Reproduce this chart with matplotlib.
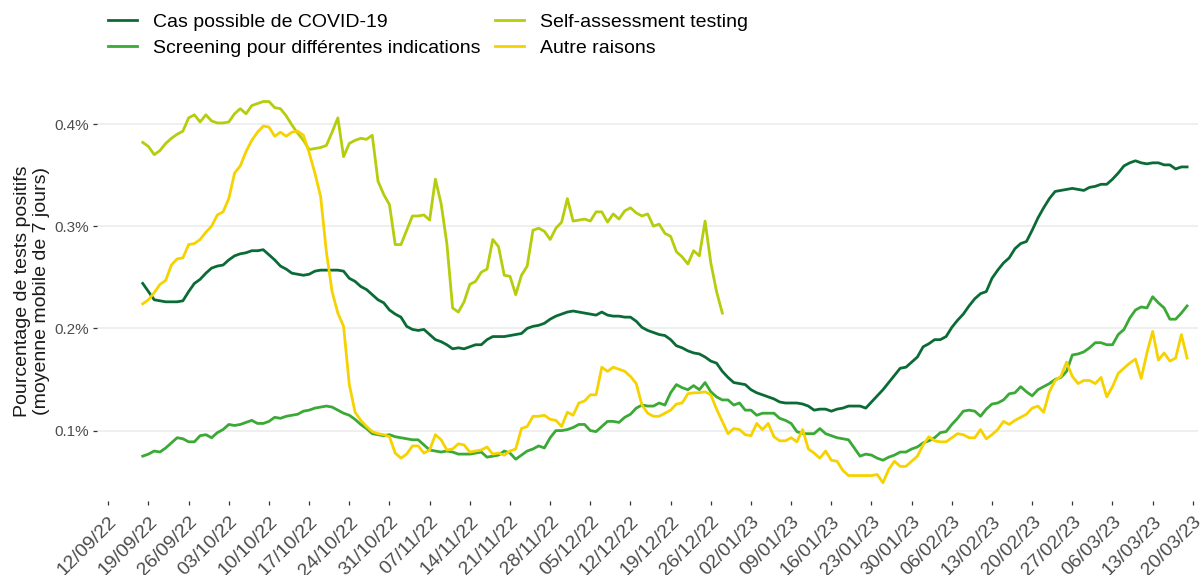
import numpy as np
import pandas as pd
import matplotlib
matplotlib.use("Agg")
import matplotlib.pyplot as plt
import matplotlib.dates as mdates
from matplotlib.ticker import FuncFormatter, FixedLocator

plt.rcParams['font.family'] = ['Liberation Sans', 'DejaVu Sans']

start_date = "2022-09-18"

cas_possible = [
    0.244,0.236,0.228,0.227,0.226,0.226,0.226,0.227,0.236,0.244,
    0.248,0.254,0.259,0.261,0.262,0.267,0.271,0.273,0.274,0.276,
    0.276,0.277,0.272,0.267,0.261,0.258,0.254,0.253,0.252,0.253,0.256,
    0.257,0.257,0.257,0.257,0.256,0.249,0.246,0.241,0.238,0.233,
    0.228,0.225,0.218,0.214,0.211,0.202,0.199,0.198,0.199,0.194,
    0.189,0.187,0.184,0.180,0.181,0.180,0.182,0.184,0.184,0.189,0.192,
    0.192,0.192,0.193,0.194,0.195,0.200,0.202,0.203,0.205,0.209,
    0.212,0.214,0.216,0.217,0.216,0.215,0.214,0.213,0.216,0.213,
    0.212,0.212,0.211,0.211,0.207,0.201,0.198,0.196,0.194,0.193,
    0.189,0.183,0.181,0.178,0.176,0.175,0.172,0.168,0.166,0.158,
    0.152,0.147,0.146,0.145,0.140,0.137,0.135,0.133,0.131,0.128,
    0.127,0.127,0.127,0.126,0.124,0.120,0.121,0.121,0.119,0.121,0.122,
    0.124,0.124,0.124,0.122,0.128,0.134,0.140,0.147,0.154,0.161,
    0.162,0.167,0.172,0.182,0.185,0.189,0.189,0.192,0.201,0.208,
    0.214,0.222,0.229,0.234,0.236,0.249,0.257,0.264,0.269,0.278,
    0.283,0.285,0.296,0.308,0.318,0.327,0.334,0.335,0.336,0.337,
    0.336,0.335,0.338,0.339,0.341,0.341,0.346,0.352,0.359,0.362,
    0.364,0.362,0.361,0.362,0.362,0.360,0.360,0.356,0.358,0.358,
]

screening = [
    0.075,0.077,0.080,0.079,0.083,0.088,0.093,0.092,0.089,0.089,
    0.095,0.096,0.093,0.098,0.101,0.106,0.105,0.106,0.108,0.110,
    0.107,0.107,0.109,0.113,0.112,0.114,0.115,0.116,0.119,0.120,0.122,
    0.123,0.124,0.123,0.120,0.117,0.115,0.111,0.106,0.102,0.097,
    0.096,0.095,0.096,0.094,0.093,0.092,0.091,0.091,0.086,0.081,
    0.080,0.079,0.080,0.079,0.077,0.077,0.077,0.078,0.079,0.074,0.075,
    0.076,0.080,0.078,0.072,0.076,0.080,0.082,0.085,0.083,0.093,
    0.100,0.100,0.101,0.103,0.106,0.106,0.100,0.099,0.104,0.109,
    0.109,0.108,0.113,0.116,0.122,0.125,0.124,0.124,0.127,0.125,
    0.137,0.145,0.142,0.140,0.144,0.140,0.147,0.138,0.133,0.130,
    0.130,0.125,0.127,0.120,0.120,0.115,0.117,0.117,0.117,0.112,
    0.110,0.107,0.099,0.097,0.097,0.097,0.102,0.097,0.095,0.093,0.092,
    0.091,0.083,0.075,0.077,0.076,0.073,0.071,0.074,0.076,0.079,
    0.079,0.082,0.084,0.088,0.090,0.093,0.098,0.099,0.106,0.112,
    0.119,0.120,0.119,0.114,0.121,0.126,0.127,0.130,0.136,0.137,
    0.143,0.138,0.134,0.140,0.143,0.146,0.150,0.152,0.158,0.174,
    0.175,0.177,0.181,0.186,0.186,0.184,0.184,0.194,0.199,0.210,
    0.218,0.221,0.220,0.231,0.225,0.220,0.209,0.209,0.215,0.222,
]

self_assessment = [
    0.382,0.378,0.370,0.374,0.381,0.386,0.390,0.393,0.406,0.409,
    0.402,0.409,0.403,0.401,0.401,0.402,0.410,0.415,0.410,0.418,
    0.420,0.422,0.422,0.416,0.415,0.408,0.399,0.391,0.384,0.375,0.376,
    0.377,0.379,0.392,0.406,0.368,0.381,0.384,0.386,0.385,0.389,
    0.344,0.331,0.321,0.282,0.282,0.296,0.310,0.310,0.311,0.306,
    0.346,0.322,0.283,0.220,0.216,0.226,0.243,0.246,0.255,0.258,0.287,
    0.280,0.252,0.251,0.233,0.252,0.261,0.296,0.298,0.295,0.287,
    0.298,0.304,0.327,0.305,0.306,0.307,0.305,0.314,0.314,0.304,
    0.312,0.307,0.315,0.318,0.313,0.310,0.312,0.300,0.302,0.293,
    0.290,0.275,0.270,0.263,0.276,0.271,0.305,0.264,0.236,0.215,
]

autre_raisons = [
    0.224,0.228,0.235,0.243,0.247,0.262,0.268,0.269,0.282,0.283,
    0.287,0.294,0.300,0.311,0.314,0.327,0.352,0.359,0.373,0.384,
    0.392,0.398,0.397,0.388,0.392,0.388,0.392,0.393,0.389,0.372,0.352,
    0.329,0.275,0.236,0.215,0.202,0.145,0.118,0.110,0.104,0.099,
    0.097,0.096,0.094,0.078,0.073,0.077,0.085,0.085,0.078,0.081,
    0.096,0.091,0.081,0.082,0.087,0.086,0.079,0.080,0.081,0.084,0.077,
    0.078,0.076,0.080,0.082,0.102,0.104,0.114,0.114,0.115,0.111,
    0.110,0.104,0.118,0.115,0.127,0.129,0.135,0.135,0.162,0.158,
    0.162,0.160,0.158,0.153,0.146,0.125,0.117,0.114,0.114,0.117,
    0.120,0.126,0.127,0.136,0.137,0.137,0.138,0.135,0.121,0.109,
    0.097,0.102,0.101,0.096,0.095,0.107,0.101,0.107,0.094,0.090,
    0.090,0.093,0.089,0.101,0.082,0.078,0.073,0.080,0.071,0.070,0.061,
    0.056,0.056,0.056,0.056,0.056,0.057,0.049,0.062,0.070,0.065,
    0.065,0.070,0.075,0.086,0.094,0.090,0.089,0.089,0.093,0.097,
    0.096,0.093,0.093,0.101,0.092,0.096,0.101,0.109,0.106,0.110,
    0.113,0.116,0.122,0.124,0.118,0.138,0.149,0.153,0.167,0.153,
    0.146,0.149,0.149,0.146,0.152,0.133,0.143,0.156,0.161,0.166,
    0.170,0.151,0.176,0.197,0.169,0.176,0.168,0.171,0.194,0.171,
]

series_labels = ["Cas possible de COVID-19", "Screening pour différentes indications",
                 "Self-assessment testing", "Autre raisons"]
series_colors = ["#0b6b36", "#3aa935", "#b5cd0c", "#f6d200"]
y_ticks = [0.1, 0.2, 0.3, 0.4]
x_tick_start, x_tick_end = "2022-09-12", "2023-03-20"
y_title = "Pourcentage de tests positifs\n(moyenne mobile de 7 jours)"

series = [cas_possible, screening, self_assessment, autre_raisons]

W, H = 1203, 575
fig = plt.figure(figsize=(W / 100, H / 100), dpi=100)
left_px, right_px, top_px, bottom_px = 97, 1198, 82, 501
ax = fig.add_axes([left_px / W, 1 - bottom_px / H, (right_px - left_px) / W, (bottom_px - top_px) / H])

for vals, lab, col in zip(series, series_labels, series_colors):
    d = pd.date_range(start_date, periods=len(vals), freq="D")
    ax.plot(d, vals, color=col, lw=2.0, label=lab, solid_joinstyle="round")

t0 = pd.Timestamp(x_tick_start)
ax.set_xlim(mdates.date2num(t0) - 1.97, mdates.date2num(t0) + 189.9)
ax.set_ylim(0.0311, 0.4411)

ticks = pd.date_range(x_tick_start, x_tick_end, freq="7D")
ax.xaxis.set_major_locator(FixedLocator(mdates.date2num(ticks)))
ax.xaxis.set_major_formatter(mdates.DateFormatter("%d/%m/%y"))
ax.set_yticks(y_ticks)
ax.yaxis.set_major_formatter(FuncFormatter(lambda v, p: f"{v:.1f}%"))

for s in ax.spines.values():
    s.set_visible(False)
ax.grid(axis="y", color="#ebebeb", lw=1.1)
ax.grid(axis="x", visible=False)
ax.set_axisbelow(True)
ax.tick_params(axis="x", length=3, width=0.9, color="#333333", labelsize=14, labelcolor="#4d4d4d", pad=6)
ax.tick_params(axis="y", length=3, width=0.9, color="#333333", labelsize=11, labelcolor="#4d4d4d", pad=3)
for lbl in ax.get_xticklabels():
    lbl.set_rotation(45)
    lbl.set_ha("right")
    lbl.set_va("top")
    lbl.set_rotation_mode("anchor")

fig.text(32 / W, 1 - 291 / H, y_title, rotation=90, ha="center", va="center",
         fontsize=14, color="#1a1a1a", multialignment="center", linespacing=1.15)

leg = fig.legend(loc="upper left", bbox_to_anchor=(108 / W, 1 - 13 / H), ncol=2, frameon=False,
                 fontsize=14, handlelength=1.5, handletextpad=0.8, columnspacing=0.75,
                 labelspacing=0.45, borderpad=0, borderaxespad=0)
for line in leg.get_lines():
    line.set_linewidth(2.0)

fig.savefig("out.png", dpi=100, facecolor="white")
